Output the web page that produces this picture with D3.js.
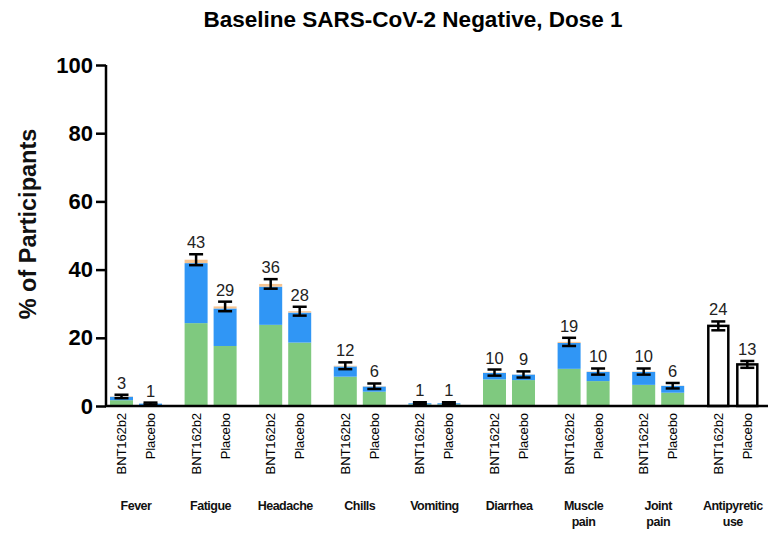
<!DOCTYPE html>
<html><head><meta charset="utf-8">
<script src="https://cdn.jsdelivr.net/npm/d3@7"></script>
<style>body{margin:0;background:#fff}svg{display:block}text{font-family:"Liberation Sans",Arial,sans-serif}</style>
</head><body><svg id="c" width="777" height="533"></svg>
<script>
const categories = ["Fever","Fatigue","Headache","Chills","Vomiting","Diarrhea","Muscle pain","Joint pain","Antipyretic use"];
const groups = ["BNT162b2","Placebo"];
// values per category: [BNT162b2, Placebo]
const mild     = [[1.7,0.3],[24.3,17.6],[23.8,18.6],[8.6,4.2],[0.5,0.5],[7.8,7.6],[10.9,7.3],[6.2,3.9],[23.5,12.2]];
const moderate = [[1.0,0.4],[17.6,11.0],[11.2,8.8],[3.0,1.5],[0.3,0.3],[1.9,1.6],[7.6,2.7],[3.8,2.0],[0,0]];
const severe   = [[0.1,0.0],[1.0,0.6],[0.8,0.4],[0.2,0.1],[0.0,0.0],[0.1,0.05],[0.3,0.1],[0.1,0.05],[0,0]];
const errHalf  = [[0.5,0.3],[1.6,1.4],[1.4,1.3],[1.0,0.8],[0.3,0.3],[0.9,0.9],[1.2,0.9],[0.9,0.8],[1.3,1.0]];
const totalLabels = [[3,1],[43,29],[36,28],[12,6],[1,1],[10,9],[19,10],[10,6],[24,13]];
const yTicks = [0,20,40,60,80,100];
const keys = ["mild","moderate","severe"];
const colors = {mild:"#7fc97f", moderate:"#3096f5", severe:"#f7c490"};

const svg = d3.select("#c");
const y = d3.scaleLinear().domain([0,100]).range([406,65]);
const x0 = d3.scaleBand().domain(categories).range([110,781.4]).padding(0);
const x1 = d3.scaleBand().domain(groups).range([0,52]).paddingInner(0.207).paddingOuter(0);

const rows = [];
categories.forEach((c,i)=>groups.forEach((g,j)=>{
  rows.push({cat:c, grp:g, i, j, mild:mild[i][j], moderate:moderate[i][j], severe:severe[i][j],
    err:errHalf[i][j], label:totalLabels[i][j], outline:c==="Antipyretic use"});
}));
const series = d3.stack().keys(keys)(rows);

const bx = d=>x0(d.cat)+x1(d.grp);
const bw = x1.bandwidth();

series.forEach(s=>{
  svg.append("g").selectAll("rect").data(s.filter(d=>!d.data.outline)).join("rect")
    .attr("x",d=>bx(d.data)).attr("width",bw)
    .attr("y",d=>y(d[1])).attr("height",d=>Math.max(0,y(d[0])-y(d[1])))
    .attr("fill",colors[s.key]);
});
svg.append("g").selectAll("rect").data(rows.filter(d=>d.outline)).join("rect")
  .attr("x",d=>bx(d)+1.5).attr("width",bw-3)
  .attr("y",d=>y(d.mild)).attr("height",d=>y(0)-y(d.mild))
  .attr("fill","#fff").attr("stroke","#000").attr("stroke-width",2.5);

const tot = d=>d.mild+d.moderate+d.severe;
const eg = svg.append("g").attr("stroke","#000").attr("stroke-width",2.5);
rows.forEach(d=>{
  const cx = bx(d)+bw/2, t=tot(d);
  const y1 = y(t+d.err), y2 = y(Math.max(0,t-d.err));
  eg.append("line").attr("x1",cx).attr("x2",cx).attr("y1",y1).attr("y2",y2);
  eg.append("line").attr("x1",cx-7).attr("x2",cx+7).attr("y1",y1).attr("y2",y1);
  eg.append("line").attr("x1",cx-7).attr("x2",cx+7).attr("y1",y2).attr("y2",y2);
});
svg.append("g").selectAll("text").data(rows).join("text")
  .attr("x",d=>bx(d)+bw/2).attr("y",d=>y(tot(d)+d.err)-6)
  .attr("text-anchor","middle").attr("font-size",16.5).attr("fill","#222")
  .text(d=>d.label);

const ya = svg.append("g").attr("transform","translate(106,0)")
  .call(d3.axisLeft(y).tickValues(yTicks).tickSize(10).tickPadding(3));
ya.select(".domain").attr("stroke","#000").attr("stroke-width",2.5).attr("d","M0,65V407");
ya.selectAll(".tick line").attr("stroke","#000").attr("stroke-width",2.5);
ya.selectAll(".tick text").attr("font-size",22).attr("font-weight","bold").attr("fill","#000")
  .attr("font-family","'Liberation Sans',Arial,sans-serif");
svg.append("line").attr("x1",105).attr("x2",768).attr("y1",406).attr("y2",406)
  .attr("stroke","#000").attr("stroke-width",2.5);

svg.append("g").selectAll("text").data(rows).join("text")
  .attr("transform",d=>`translate(${bx(d)+bw/2+4.5},413) rotate(-90)`)
  .attr("text-anchor","end").attr("font-size",13.2).attr("letter-spacing","-0.2").attr("fill","#000")
  .text(d=>d.grp);

const gl = svg.append("g");
categories.forEach(c=>{
  const parts = c.split(" ");
  const cx = x0(c)+26;
  const t = gl.append("text").attr("x",cx).attr("y",510).attr("text-anchor","middle")
    .attr("font-size",12.5).attr("font-weight","bold").attr("letter-spacing","-0.5").attr("fill","#111");
  parts.forEach((p,k)=>t.append("tspan").attr("x",cx).attr("dy",k?16:0).text(p));
});

svg.append("text").attr("transform","translate(36,224) rotate(-90)").attr("text-anchor","middle")
  .attr("font-size",23.5).attr("font-weight","bold").attr("fill","#111").text("% of Participants");
svg.append("text").attr("x",413).attr("y",27).attr("text-anchor","middle")
  .attr("font-size",22.5).attr("font-weight","bold").attr("fill","#000")
  .text("Baseline SARS-CoV-2 Negative, Dose 1");
</script></body></html>
